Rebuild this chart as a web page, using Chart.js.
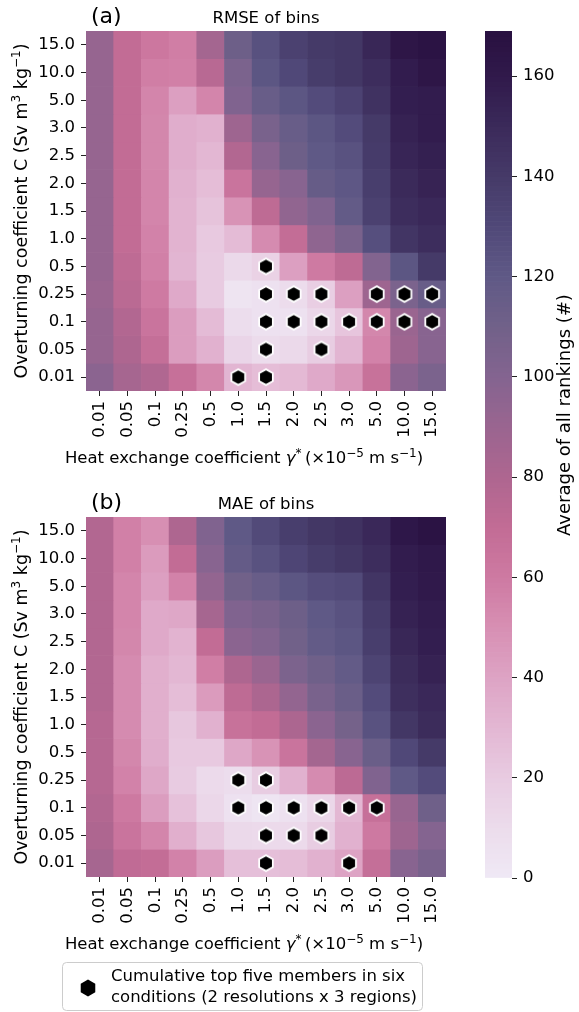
<!DOCTYPE html>
<html><head><meta charset="utf-8">
<script src="https://cdn.jsdelivr.net/npm/chart.js@4.4.0/dist/chart.umd.min.js"></script>
<style>
html,body{margin:0;padding:0;background:#fff;}
body{width:579px;height:1012px;position:relative;overflow:hidden;}
canvas{position:absolute;display:block;}
</style></head><body>
<canvas id="ca" style="left:0;top:0;width:470px;height:470px" width="470" height="470"></canvas>
<canvas id="cb" style="left:0;top:486px;width:470px;height:526px" width="470" height="526"></canvas>
<canvas id="cc" style="left:470px;top:0;width:109px;height:1012px" width="109" height="1012"></canvas>
<script>
// ---- data ----
const xLabels = ['0.01','0.05','0.1','0.25','0.5','1.0','1.5','2.0','2.5','3.0','5.0','10.0','15.0'];
const yLabels = ['15.0','10.0','5.0','3.0','2.5','2.0','1.5','1.0','0.5','0.25','0.1','0.05','0.01'];

const rmseValues = [
  [92,70,62,58,85,112,125,135,140,142,152,163,166],
  [92,70,58,57,75,105,122,130,138,142,148,158,163],
  [92,70,55,42,55,102,115,122,128,134,145,157,158],
  [92,70,54,35,33,88,106,115,122,128,140,155,158],
  [92,70,54,35,30,78,98,112,120,124,139,153,156],
  [92,70,55,33,27,64,92,98,116,121,137,150,154],
  [92,70,55,32,24,48,72,94,102,118,135,148,151],
  [92,70,56,32,21,28,52,69,95,106,126,143,148],
  [92,72,57,31,20,12,16,42,60,72,101,122,140],
  [90,74,60,37,20,4,6,10,18,42,88,105,115],
  [92,78,64,43,28,9,6,6,13,23,54,90,98],
  [92,80,68,43,33,14,10,12,19,31,56,88,98],
  [97,84,79,67,54,31,27,29,37,46,66,97,105]
];
const maeValues = [
  [78,57,50,80,102,120,129,137,142,145,151,162,166],
  [78,57,44,70,98,117,124,132,138,142,148,158,161],
  [78,55,42,56,93,110,115,122,127,129,143,157,160],
  [78,55,37,38,84,102,106,112,120,124,139,155,158],
  [78,54,37,32,70,97,101,110,118,122,137,152,157],
  [78,52,34,30,58,80,90,104,111,118,133,149,155],
  [78,52,34,27,44,72,81,93,106,114,128,147,151],
  [76,52,34,22,33,66,70,81,97,108,124,142,149],
  [76,54,35,21,21,38,48,64,85,98,114,130,140],
  [76,56,38,20,11,9,19,33,52,73,102,120,128],
  [78,61,43,25,13,6,3,6,13,30,67,91,111],
  [80,64,55,34,22,12,11,11,19,33,61,88,100],
  [84,71,69,56,43,26,26,27,33,40,68,98,106]
];
// top-five members: [gamma, C]
const rmseTop = [['1.5','0.5'],['1.5','0.25'],['2.0','0.25'],['2.5','0.25'],['5.0','0.25'],['10.0','0.25'],['15.0','0.25'],
  ['1.5','0.1'],['2.0','0.1'],['2.5','0.1'],['3.0','0.1'],['5.0','0.1'],['10.0','0.1'],['15.0','0.1'],
  ['1.5','0.05'],['2.5','0.05'],['1.0','0.01'],['1.5','0.01']];
const maeTop = [['1.0','0.25'],['1.5','0.25'],['1.0','0.1'],['1.5','0.1'],['2.0','0.1'],['2.5','0.1'],['3.0','0.1'],['5.0','0.1'],
  ['1.5','0.05'],['2.0','0.05'],['2.5','0.05'],['1.5','0.01'],['3.0','0.01']];
const cbarTicks = [0,20,40,60,80,100,120,140,160];
const cbarMax = 169;

// ---- style ----
const FONT = 'DejaVu Sans';
const FS = 16.5;
Chart.defaults.font.family = FONT;
Chart.defaults.font.size = FS;
Chart.defaults.color = '#000';
Chart.defaults.animation = false;

const cmapStops = [
  [0,'#efe9f5'],[10,'#ecdcec'],[20,'#e8cbe1'],[30,'#e3b7d3'],[40,'#dda3c4'],[50,'#d78fb3'],
  [60,'#ce7aa2'],[70,'#c26c95'],[80,'#ae6690'],[90,'#9a6590'],[100,'#846490'],[110,'#716189'],
  [120,'#5f5986'],[130,'#504878'],[140,'#453a68'],[150,'#3b2a5a'],[160,'#30194b'],[169,'#291040']
];
function hex2rgb(h){return [parseInt(h.slice(1,3),16),parseInt(h.slice(3,5),16),parseInt(h.slice(5,7),16)];}
function cmap(v){
  if (v <= cmapStops[0][0]) return cmapStops[0][1];
  for (let k = 1; k < cmapStops.length; k++) {
    if (v <= cmapStops[k][0]) {
      const [v0,c0] = cmapStops[k-1], [v1,c1] = cmapStops[k];
      const t = (v - v0) / (v1 - v0);
      const a = hex2rgb(c0), b = hex2rgb(c1);
      return 'rgb(' + a.map((q,i)=>Math.round(q + (b[i]-q)*t)).join(',') + ')';
    }
  }
  return cmapStops[cmapStops.length-1][1];
}

function hexImage(R, stroke){
  const s = 24;
  const c = document.createElement('canvas'); c.width = s; c.height = s;
  const g = c.getContext('2d');
  g.translate(s/2, s/2);
  g.beginPath();
  for (let k = 0; k < 6; k++) {
    const a = -Math.PI/2 + k*Math.PI/3;
    const px = R*Math.cos(a), py = R*Math.sin(a);
    if (k) g.lineTo(px,py); else g.moveTo(px,py);
  }
  g.closePath();
  g.fillStyle = '#000'; g.fill();
  if (stroke) { g.strokeStyle = '#fff'; g.lineWidth = stroke; g.lineJoin = 'miter'; g.stroke(); }
  return c;
}
const hexMarker = hexImage(7.9, 1.8);
const hexLegend = hexImage(8.4, 0);

// rich text (superscripts / italic) drawn as real canvas text
function drawRich(ctx, parts, size, x, y, rot) {
  const supS = Math.round(size * 0.7);
  const fontFor = p => (p.it ? 'italic ' : '') + (p.sup ? supS : size) + 'px "' + FONT + '"';
  let total = 0;
  const widths = parts.map(p => { ctx.font = fontFor(p); const w = ctx.measureText(p.t).width; total += w; return w; });
  ctx.save();
  ctx.translate(x, y); ctx.rotate(rot);
  ctx.fillStyle = '#000'; ctx.textAlign = 'left'; ctx.textBaseline = 'alphabetic';
  let cx = -total / 2;
  parts.forEach((p, i) => { ctx.font = fontFor(p); ctx.fillText(p.t, cx, p.sup ? -size * 0.38 : 0); cx += widths[i]; });
  ctx.restore();
}
const xTitleParts = [{t:'Heat exchange coefficient '},{t:'γ',it:true},{t:'*',sup:true},{t:'\u2009(×10'},{t:'−5',sup:true},{t:' m s'},{t:'−1',sup:true},{t:')'}];
const yTitleParts = [{t:'Overturning coefficient C (Sv m'},{t:'3',sup:true},{t:' kg'},{t:'−1',sup:true},{t:')'}];

const tickColor = '#222';

const panelDecor = {
  id: 'panelDecor',
  afterDraw(chart, args, opts) {
    const {ctx, chartArea} = chart;
    const cxm = (chartArea.left + chartArea.right) / 2;
    const cym = (chartArea.top + chartArea.bottom) / 2;
    ctx.save();
    ctx.fillStyle = '#000';
    ctx.textBaseline = 'alphabetic';
    ctx.font = '22px "' + FONT + '"';
    ctx.textAlign = 'left';
    ctx.fillText(opts.tag, chartArea.left + 5, chartArea.top - 8);
    ctx.font = FS + 'px "' + FONT + '"';
    ctx.textAlign = 'center';
    ctx.fillText(opts.title, cxm, chartArea.top - 8);
    drawRich(ctx, xTitleParts, 16.5, 244, chartArea.bottom + 72, 0);
    drawRich(ctx, yTitleParts, 17.5, 27, cym, -Math.PI / 2);
    if (opts.legend) {
      const L = opts.legend;
      ctx.strokeStyle = '#cccccc'; ctx.lineWidth = 1;
      ctx.beginPath();
      ctx.roundRect(L.x + 0.5, L.y + 0.5, L.w, L.h, 4);
      ctx.fillStyle = 'rgba(255,255,255,0.8)'; ctx.fill();
      ctx.stroke();
      ctx.drawImage(hexLegend, L.mx - hexLegend.width/2, L.my - hexLegend.height/2);
      ctx.fillStyle = '#000';
      ctx.textAlign = 'left'; ctx.textBaseline = 'middle';
      ctx.font = FS + 'px "' + FONT + '"';
      L.lines.forEach((t, i) => ctx.fillText(t, L.tx, L.ty + i * L.lh));
    }
    ctx.restore();
  }
};

function makeHeatmap(canvas, values, top, tag, title, padBottom, legend) {
  const datasets = [{
    type: 'scatter',
    data: top.map(([g, c]) => ({x: g, y: yLabels.indexOf(c) + 0.5})),
    pointStyle: hexMarker,
    pointRadius: 9,
    order: -1
  }];
  values.forEach((row, i) => {
    datasets.push({
      type: 'bar',
      data: xLabels.map(() => [i, i + 1]),
      backgroundColor: row.map(cmap),
      borderWidth: 0,
      grouped: false,
      barPercentage: 1,
      categoryPercentage: 1,
      order: 0
    });
  });
  return new Chart(canvas, {
    type: 'bar',
    data: {labels: xLabels, datasets},
    plugins: [panelDecor],
    options: {
      responsive: false,
      devicePixelRatio: 1,
      layout: {padding: {top: 31, right: 24, left: 0, bottom: padBottom}},
      plugins: {legend: {display: false}, tooltip: {enabled: false},
        panelDecor: {tag, title, legend}},
      scales: {
        x: {
          type: 'category', offset: true,
          grid: {offset: false, drawOnChartArea: false, drawTicks: true, tickLength: 5, color: tickColor, lineWidth: 1},
          border: {display: false},
          ticks: {minRotation: 90, maxRotation: 90, autoSkip: false, padding: 5, color: '#000'},
          afterFit(s) { s.height = 79; }
        },
        y: {
          type: 'linear', reverse: true, min: 0, max: 13,
          afterBuildTicks(s) { s.ticks = yLabels.map((_, i) => ({value: i + 0.5})); },
          grid: {drawOnChartArea: false, drawTicks: true, tickLength: 5, color: tickColor, lineWidth: 1},
          border: {display: false},
          ticks: {callback: (v, i) => yLabels[i], padding: 6, color: '#000'},
          afterFit(s) { s.width = 86; }
        }
      }
    }
  });
}

makeHeatmap(document.getElementById('ca'), rmseValues, rmseTop, '(a)', 'RMSE of bins', 0, null);
makeHeatmap(document.getElementById('cb'), maeValues, maeTop, '(b)', 'MAE of bins', 56, {
  x: 62, y: 476, w: 360, h: 48, mx: 88, my: 502, tx: 111, ty: 491, lh: 21,
  lines: ['Cumulative top five members in six', 'conditions (2 resolutions x 3 regions)']
});

// ---- colorbar ----
const cbarLevels = [];
for (let v = 0; v < cbarMax; v++) cbarLevels.push(v);
const cbarLabel = {
  id: 'cbarLabel',
  afterDraw(chart) {
    const {ctx} = chart;
    ctx.save();
    ctx.translate(95, 415);
    ctx.rotate(-Math.PI/2);
    ctx.font = '18px "' + FONT + '"';
    ctx.fillStyle = '#000';
    ctx.textAlign = 'center'; ctx.textBaseline = 'middle';
    ctx.fillText('Average of all rankings (#)', 0, 0);
    ctx.restore();
  }
};
new Chart(document.getElementById('cc'), {
  type: 'bar',
  data: {labels: ['cbar'], datasets: [{
    data: cbarLevels.map(v => ({x: 'cbar', y: [v, Math.min(v + 1, cbarMax)]})),
    backgroundColor: cbarLevels.map(v => cmap(v + 0.5)),
    borderWidth: 0, barPercentage: 1, categoryPercentage: 1
  }]},
  plugins: [cbarLabel],
  options: {
    responsive: false, devicePixelRatio: 1,
    layout: {padding: {top: 31, left: 15, right: 0, bottom: 134}},
    plugins: {legend: {display: false}, tooltip: {enabled: false}},
    scales: {
      x: {display: false},
      y: {
        position: 'right', min: 0, max: cbarMax,
        afterBuildTicks(s) { s.ticks = cbarTicks.map(v => ({value: v})); },
        grid: {drawOnChartArea: false, drawTicks: true, tickLength: 5, color: tickColor, lineWidth: 1},
        border: {display: false},
        ticks: {padding: 6, color: '#000'},
        afterFit(s) { s.width = 67; }
      }
    }
  }
});
</script>
</body></html>
